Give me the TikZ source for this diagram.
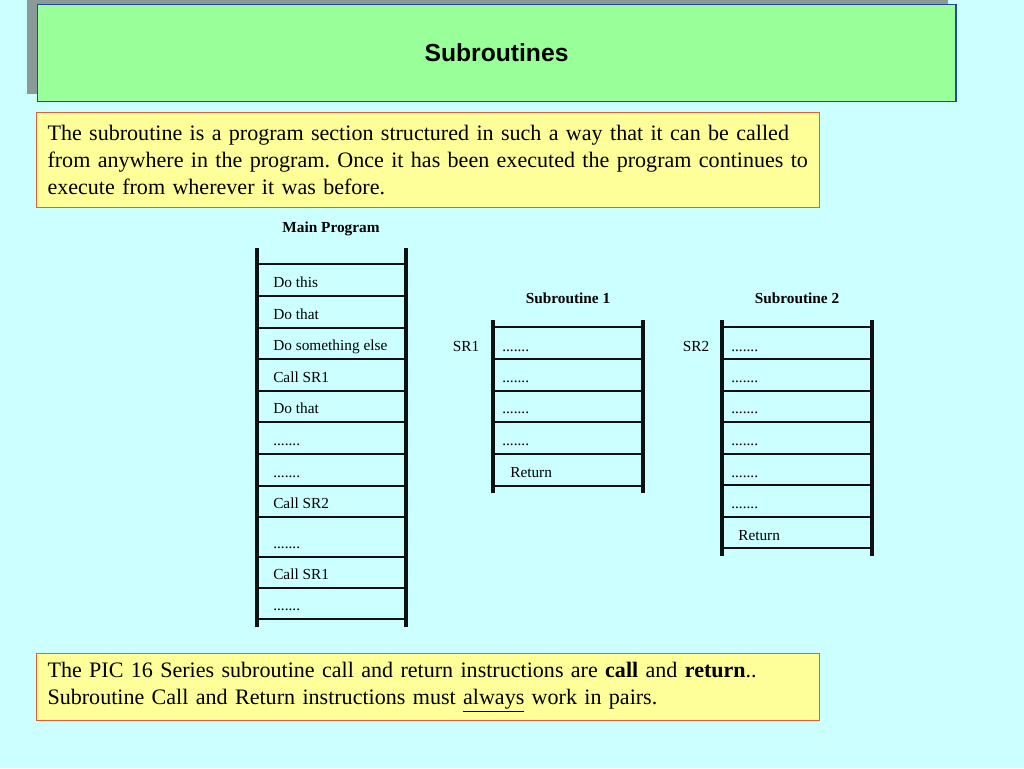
\documentclass[tikz,border=0pt]{standalone}
\usepackage{fontspec}
\setmainfont{Liberation Serif}
\newfontfamily\sansf{Liberation Sans}
\definecolor{bgc}{HTML}{CCFFFF}
\definecolor{titlefill}{HTML}{99FF99}
\definecolor{titleedge}{HTML}{1F4AA0}
\definecolor{shadowc}{HTML}{8A9A98}
\definecolor{notefill}{HTML}{FFFF99}
\definecolor{noteedge}{HTML}{E0603C}
\definecolor{inkc}{HTML}{101010}
\tikzset{
  vrule/.style={line width=2.6pt, draw=inkc},
  hrule/.style={line width=1.1pt, draw=inkc},
  rowtxt/.style={anchor=base west, inner sep=0pt, font=\fontsize{11.5}{13}\selectfont},
  headtxt/.style={anchor=base, inner sep=0pt, font=\fontsize{11.5}{13}\selectfont\bfseries},
  notebox/.style={draw=noteedge, line width=0.8pt, fill=notefill, anchor=north west,
     inner xsep=8.25pt, inner ysep=0pt, align=left, text width=570.75pt,
     font=\fontsize{16.55}{20.25}\selectfont\frenchspacing}
}
\begin{document}
\begin{tikzpicture}[x=0.75pt,y=-0.75pt]
\useasboundingbox (0,0) rectangle (1024,768);
\fill[bgc] (0,0) rectangle (1024,768);
% title
\fill[shadowc] (27,-2) rectangle (948,94);
\node[draw=titleedge, line width=1pt, fill=titlefill, anchor=north west, minimum width=689pt, minimum height=72.75pt, inner sep=0pt,
  font=\sansf\bfseries\fontsize{18.5}{22}\selectfont] (title) at (36.5,4) {Subroutines};
% notes
\node[notebox, minimum height=71.25pt] (note1) at (36,112) {The subroutine is a program section structured in such a way that it can be called\\
from anywhere in the program. Once it has been executed the program continues to\\
execute from wherever it was before.};
\node[notebox, minimum height=50.25pt] (note2) at (36,653) {The PIC 16 Series subroutine call and return instructions are \textbf{call} and \textbf{return}..\\
Subroutine Call and Return instructions must \underline{always} work in pairs.};
% main program
\node[headtxt] (mainhead) at (331,232) {Main Program};
\draw[vrule] (257,248) -- (257,627);
\draw[vrule] (406,248) -- (406,627);
\foreach \y in {264,296,328,359,391,422,454,486,517,557,588,619}
  \draw[hrule] (257,\y) -- (406,\y);
\node[rowtxt] (m1) at (273,287) {Do this};
\node[rowtxt] (m2) at (273,319) {Do that};
\node[rowtxt] (m3) at (273,350) {Do something else};
\node[rowtxt] (m4) at (273,382) {Call SR1};
\node[rowtxt] (m5) at (273,413) {Do that};
\node[rowtxt] (m6) at (273,445) {.......};
\node[rowtxt] (m7) at (273,477) {.......};
\node[rowtxt] (m8) at (273,508) {Call SR2};
\node[rowtxt] (m9) at (273,548) {.......};
\node[rowtxt] (m10) at (273,579) {Call SR1};
\node[rowtxt] (m11) at (273,610) {.......};
% subroutine 1
\node[headtxt] (s1head) at (568,303) {Subroutine 1};
\draw[vrule] (493,320) -- (493,493);
\draw[vrule] (643,320) -- (643,493);
\foreach \y in {327,359,391,422,454,486}
  \draw[hrule] (493,\y) -- (643,\y);
\node[rowtxt,anchor=base] (sr1lab) at (466,351) {SR1};
\node[rowtxt] (a1) at (502,351) {.......};
\node[rowtxt] (a2) at (502,382) {.......};
\node[rowtxt] (a3) at (502,413) {.......};
\node[rowtxt] (a4) at (502,445) {.......};
\node[rowtxt] (a5) at (510,477) {Return};
% subroutine 2
\node[headtxt] (s2head) at (797,303) {Subroutine 2};
\draw[vrule] (722,320) -- (722,556);
\draw[vrule] (872,320) -- (872,556);
\foreach \y in {327,359,391,422,454,485,517,548}
  \draw[hrule] (722,\y) -- (872,\y);
\node[rowtxt,anchor=base] (sr2lab) at (696,351) {SR2};
\node[rowtxt] (b1) at (731,351) {.......};
\node[rowtxt] (b2) at (731,382) {.......};
\node[rowtxt] (b3) at (731,413) {.......};
\node[rowtxt] (b4) at (731,445) {.......};
\node[rowtxt] (b5) at (731,477) {.......};
\node[rowtxt] (b6) at (731,508) {.......};
\node[rowtxt] (b7) at (738,540) {Return};
\end{tikzpicture}
\end{document}
